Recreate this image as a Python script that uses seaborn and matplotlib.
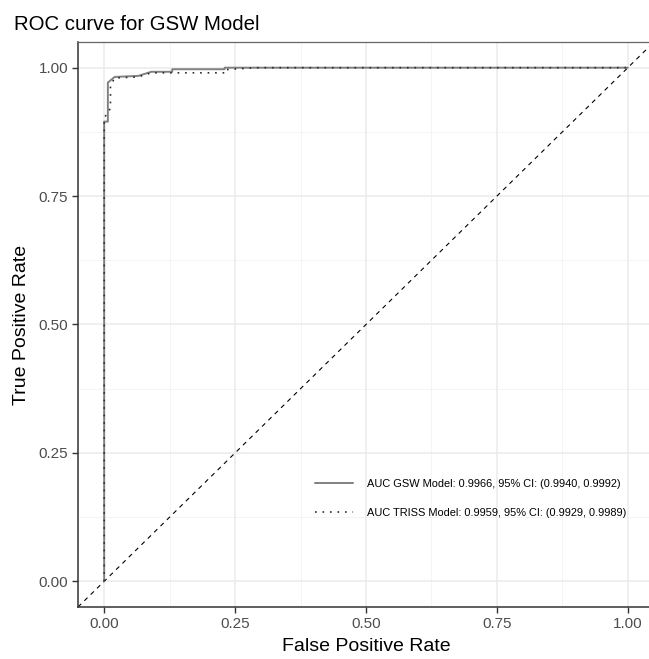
import matplotlib
matplotlib.use("Agg")
import matplotlib.pyplot as plt
import seaborn as sns
import pandas as pd
import numpy as np
from matplotlib.lines import Line2D

# ---- data ----
gsw_fpr = [0.0, 0.0, 0.007, 0.007, 0.02, 0.065, 0.09, 0.13, 0.13, 0.23, 0.23, 1.0]
gsw_tpr = [0.0, 0.895, 0.895, 0.971, 0.982, 0.984, 0.992, 0.992, 0.997, 0.997, 1.0, 1.0]
triss_fpr = [0.0, 0.0, 0.006, 0.012, 0.012, 0.02, 0.065, 0.09, 0.23, 0.23, 0.29, 1.0]
triss_tpr = [0.0, 0.90, 0.914, 0.92, 0.965, 0.98, 0.982, 0.99, 0.99, 0.996, 1.0, 1.0]
labels = ["AUC GSW Model: 0.9966, 95% CI: (0.9940, 0.9992)",
          "AUC TRISS Model: 0.9959, 95% CI: (0.9929, 0.9989)"]
ticks = [0.00, 0.25, 0.50, 0.75, 1.00]
tick_labels = ["0.00", "0.25", "0.50", "0.75", "1.00"]

df = pd.concat([
    pd.DataFrame({"fpr": gsw_fpr, "tpr": gsw_tpr, "model": labels[0]}),
    pd.DataFrame({"fpr": triss_fpr, "tpr": triss_tpr, "model": labels[1]}),
])

sns.set_theme(style="white")
plt.rcParams["font.family"] = ["Liberation Sans", "DejaVu Sans"]

fig = plt.figure(figsize=(6.49, 6.59), dpi=100)
ax = fig.add_axes([78/649, 1-607/659, (654-78)/649, (607-42)/659])
ax.set_facecolor("white")

# grid
for v in [0.125, 0.375, 0.625, 0.875]:
    ax.axvline(v, color="#f2f2f2", lw=0.6, zorder=0)
    ax.axhline(v, color="#f2f2f2", lw=0.6, zorder=0)
for v in ticks:
    ax.axvline(v, color="#ebebeb", lw=1.1, zorder=0)
    ax.axhline(v, color="#ebebeb", lw=1.1, zorder=0)

ax.axline((0, 0), (1, 1), color="black", lw=0.8, ls=(0, (4, 4)), zorder=1)

sns.lineplot(data=df[df.model == labels[0]], x="fpr", y="tpr", sort=False, estimator=None,
             color="#808080", lw=1.4, ax=ax, zorder=2)
sns.lineplot(data=df[df.model == labels[1]], x="fpr", y="tpr", sort=False, estimator=None,
             color="#2b2b2b", lw=1.2, ls=(0, (1, 3.5)), ax=ax, zorder=3)

ax.set_xlim(-0.05, 1.05)
ax.set_ylim(-0.05, 1.05)
ax.set_xticks(ticks)
ax.set_xticklabels(tick_labels)
ax.set_yticks(ticks)
ax.set_yticklabels(tick_labels)
ax.tick_params(axis="both", length=4, width=1.0, color="#333333", labelcolor="#4d4d4d",
               labelsize=11, direction="out", bottom=True, left=True, pad=3)
for s in ["left", "bottom"]:
    ax.spines[s].set_color("#333333")
    ax.spines[s].set_linewidth(1.1)
for s in ["top", "right"]:
    ax.spines[s].set_color("#666666")
    ax.spines[s].set_linewidth(0.9)

ax.set_xlabel("False Positive Rate", fontsize=14, color="black", labelpad=5)
ax.set_ylabel("True Positive Rate", fontsize=14, color="black", labelpad=6)
ax.set_title("ROC curve for GSW Model", fontsize=14.7, loc="left", color="black",
             x=-0.111, y=1.0, pad=9)

handles = [Line2D([0], [0], color="#808080", lw=1.4),
           Line2D([0], [0], color="#2b2b2b", lw=1.2, ls=(0, (1, 3.5)))]
leg = ax.legend(handles, labels, loc="lower left", bbox_to_anchor=(0.395, 0.14),
                frameon=False, fontsize=7.9, handlelength=3.4, handletextpad=1.3,
                labelspacing=1.75)
for t in leg.get_texts():
    t.set_color("black")

fig.savefig("out.png", dpi=100)
